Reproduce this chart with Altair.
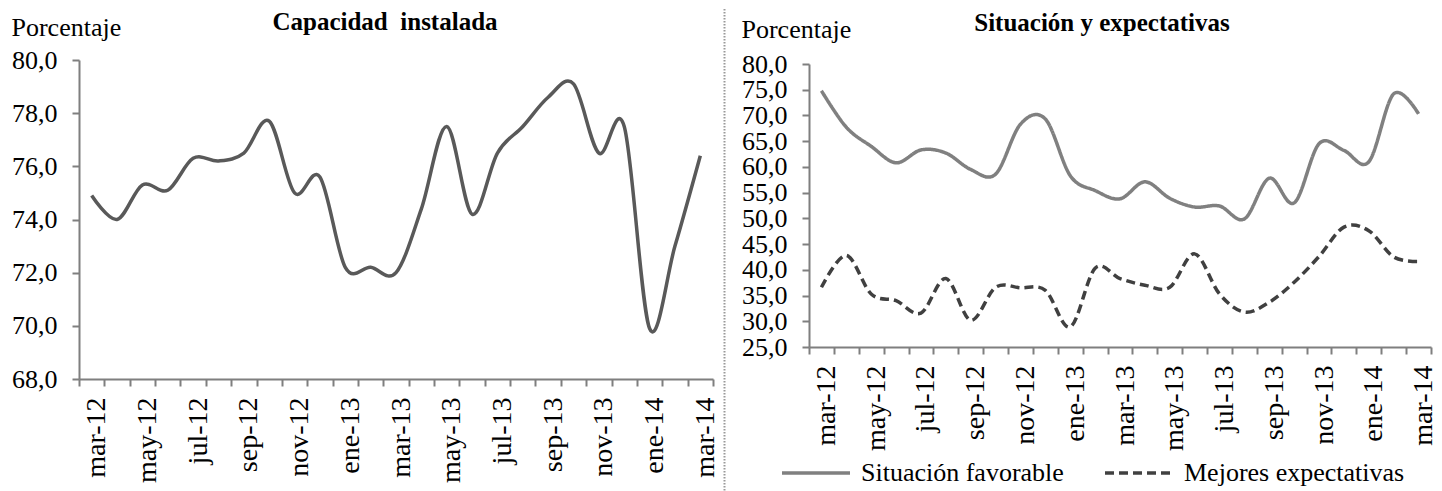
import json
import altair as alt
import pandas as pd

FONT = "Liberation Serif"
AX = "#7f7f7f"

meses = ["mar-12", "abr-12", "may-12", "jun-12", "jul-12", "ago-12", "sep-12", "oct-12",
         "nov-12", "dic-12", "ene-13", "feb-13", "mar-13", "abr-13", "may-13", "jun-13",
         "jul-13", "ago-13", "sep-13", "oct-13", "nov-13", "dic-13", "ene-14", "feb-14", "mar-14"]
etiquetas_x = meses[::2]

capacidad = [74.9, 74.0, 75.3, 75.1, 76.3, 76.2, 76.5, 77.7, 75.0, 75.6, 72.2, 72.2, 72.0,
             74.4, 77.5, 74.2, 76.5, 77.5, 78.6, 79.1, 76.5, 77.5, 69.9, 73.0, 76.4]
situacion = [74.8, 67.7, 64.0, 60.8, 63.3, 62.7, 59.5, 58.6, 68.3, 69.3, 58.3, 55.4, 53.8,
             57.1, 53.9, 52.2, 52.4, 49.9, 57.8, 53.0, 64.5, 63.2, 61.0, 74.2, 70.3]
expectativas = [36.6, 42.8, 35.3, 34.0, 31.6, 38.3, 30.2, 36.6, 36.5, 36.0, 28.9, 40.3, 38.3,
                37.0, 36.6, 43.1, 35.3, 31.8, 33.7, 37.6, 42.6, 48.3, 47.6, 42.5, 41.6]
series = ["Situación favorable", "Mejores expectativas"]
ticks_izq = [68, 70, 72, 74, 76, 78, 80]
ticks_der = [25, 30, 35, 40, 45, 50, 55, 60, 65, 70, 75, 80]

label_expr_x = "indexof(" + json.dumps(etiquetas_x) + ", datum.value) >= 0 ? datum.value : ''"
label_expr_y = "replace(format(datum.value, '.1f'), '.', ',')"


def x_enc():
    return alt.X(
        "mes:O", sort=meses, title=None,
        scale=alt.Scale(type="band", paddingInner=0, paddingOuter=0),
        axis=alt.Axis(labelAngle=270, tickBand="extent", labelExpr=label_expr_x,
                      labelFont=FONT, labelFontSize=28, labelColor="black",
                      labelPadding=11, labelOffset=5, tickSize=7, tickWidth=2,
                      tickColor=AX, domainColor=AX, domainWidth=2,
                      labelOverlap=False, grid=False),
    )


def y_axis(vals, ty):
    return alt.Axis(values=vals, labelExpr=label_expr_y, labelFont=FONT, labelFontSize=26,
                    labelColor="black", labelPadding=15, tickSize=7, tickWidth=2,
                    tickColor=AX, domainColor=AX, domainWidth=2, grid=False,
                    title="Porcentaje", titleAngle=0, titleAlign="left",
                    titleBaseline="alphabetic", titleX=-68, titleY=ty,
                    titleFont=FONT, titleFontSize=26, titleFontWeight="normal",
                    titleColor="black", labelOverlap=False)


df1 = pd.DataFrame({"mes": meses, "valor": capacidad})
left = alt.Chart(
    df1,
    title=alt.Title("Capacidad\u00a0 instalada", font=FONT, fontSize=25, fontWeight="bold",
                    color="black", anchor="middle", dx=-11, offset=-21),
).mark_line(interpolate="cardinal", color="#595959", strokeWidth=3.5).encode(
    x=x_enc(),
    y=alt.Y("valor:Q", scale=alt.Scale(domain=[68, 80], nice=False, zero=False),
            axis=y_axis(ticks_izq, -25)),
).properties(width=634, height=319)

rows = []
for s, vals in zip(series, [situacion, expectativas]):
    for m, v in zip(meses, vals):
        rows.append({"mes": m, "valor": v, "serie": s})
df2 = pd.DataFrame(rows)


def leg():
    return alt.Legend(title=None, orient="none", legendX=701, legendY=377,
                      direction="horizontal", symbolType="stroke", symbolSize=4624,
                      symbolStrokeWidth=3.5, labelFont=FONT, labelFontSize=26,
                      labelColor="black", labelOffset=9, columnPadding=34, padding=0,
                      labelLimit=400)


lines = alt.Chart(df2).mark_line(interpolate="cardinal", strokeWidth=3.5).encode(
    x=x_enc(),
    y=alt.Y("valor:Q", scale=alt.Scale(domain=[25, 80], nice=False, zero=False, range=[287, 4]),
            axis=y_axis(ticks_der, -23)),
    color=alt.Color("serie:N", sort=series,
                    scale=alt.Scale(domain=series, range=["#808080", "#404040"]), legend=leg()),
    strokeDash=alt.StrokeDash("serie:N", sort=series,
                              scale=alt.Scale(domain=series, range=[[1, 0], [9, 5]]),
                              legend=leg()),
)

sep = alt.Chart(pd.DataFrame({"k": [0]})).mark_rule(
    color="#9a9a9a", strokeWidth=2, strokeDash=[1.5, 1.5]
).encode(x=alt.value(-84.5), y=alt.value(-51), y2=alt.value(440))

right = alt.layer(
    lines, sep,
    title=alt.Title("Situación y expectativas", font=FONT, fontSize=25, fontWeight="bold",
                    color="black", anchor="middle", dx=-18, offset=-28),
).properties(width=622, height=287)

chart = alt.hconcat(left, right, spacing=96, bounds="flush").configure_view(
    stroke=None
).properties(padding={"left": 3, "top": 0, "right": -4, "bottom": 0})

chart.save("out.html", embed_options={"renderer": "svg", "actions": False})
